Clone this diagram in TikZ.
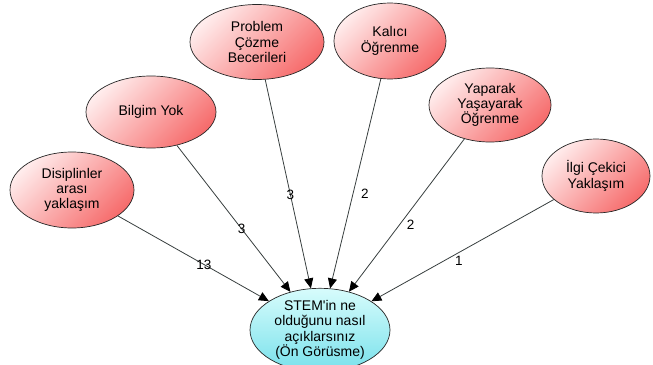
\documentclass[tikz,border=0pt]{standalone}
\usepackage{fontspec}
\setmainfont[Ligatures=TeXOff]{Liberation Sans}
\usetikzlibrary{shapes.geometric,arrows.meta}
\definecolor{pinklight}{RGB}{255,236,236}
\definecolor{pinkdark}{RGB}{246,108,108}
\definecolor{cyanlight}{RGB}{215,252,252}
\definecolor{cyandark}{RGB}{120,225,235}
\definecolor{edgecol}{RGB}{55,62,62}
\tikzset{
  concept/.style={ellipse, draw=black!85, line width=0.7pt, align=center,
    inner sep=0pt, font=\fontsize{14}{15.3}\selectfont,
    top color=pinklight, bottom color=pinkdark, shading angle=45},
  goal/.style={concept, top color=cyanlight, bottom color=cyandark},
  link/.style={draw=edgecol, line width=0.8pt, -{Triangle[length=10pt,width=9pt,color=black,fill=black]}},
  lbl/.style={font=\fontsize{13.5}{15}\selectfont, inner sep=1pt}
}
\begin{document}
\begin{tikzpicture}[x=1pt,y=-1pt]
\useasboundingbox (0,0) rectangle (653,364);
\node[concept, minimum width=124pt, minimum height=76pt] (dis) at (72,190) {Disiplinler\\arası\\yaklaşım};
\node[concept, minimum width=130pt, minimum height=72pt] (bil) at (151,112) {Bilgim Yok};
\node[concept, minimum width=134pt, minimum height=75pt] (pro) at (257,42) {Problem\\Çözme\\Becerileri};
\node[concept, minimum width=112pt, minimum height=76pt] (kal) at (390,41) {Kalıcı\\Öğrenme};
\node[concept, minimum width=122pt, minimum height=74pt] (yap) at (490,105) {Yaparak\\Yaşayarak\\Öğrenme};
\node[concept, minimum width=108pt, minimum height=74pt] (ilg) at (596,176) {İlgi Çekici\\Yaklaşım};
\node[goal, minimum width=140pt, minimum height=66pt] (stem) at (320,330) {STEM'in ne\\olduğunu nasıl\\açıklarsınız\\(Ön Görüsme)};
\draw[link] (dis) -- node[lbl, pos=0.57] {13} (stem);
\draw[link] (bil) -- node[lbl, pos=0.57] {3} (stem);
\draw[link] (pro) -- node[lbl, pos=0.55] {3} (stem);
\draw[link] (kal) -- node[lbl, pos=0.55, xshift=12pt] {2} (stem);
\draw[link] (yap) -- node[lbl, pos=0.56, xshift=11pt] {2} (stem);
\draw[link] (ilg) -- node[lbl, pos=0.52, yshift=-8pt] {1} (stem);
\end{tikzpicture}
\end{document}
